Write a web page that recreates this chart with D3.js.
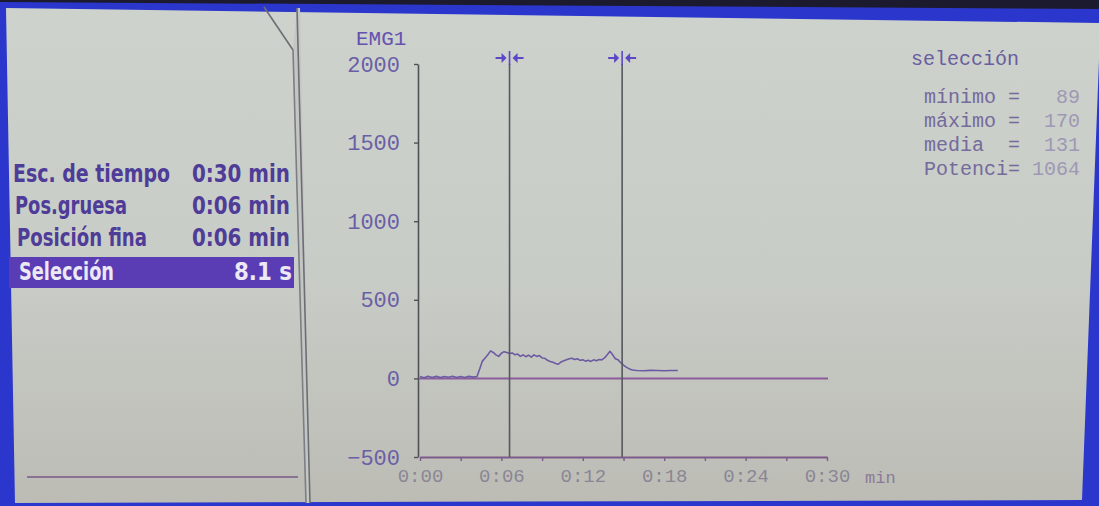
<!DOCTYPE html>
<html>
<head>
<meta charset="utf-8">
<script src="https://cdn.jsdelivr.net/npm/d3@7"></script>
<style>
  html, body { margin: 0; padding: 0; background: #1c1a2e; }
  svg { display: block; }
</style>
</head>
<body>
<svg id="chart" width="1099" height="506"></svg>
<script>
// ---------------- data ----------------
const channelName = "EMG1";
const yTicks = [-500, 0, 500, 1000, 1500, 2000];
const xMinorTicks = [0, 3, 6, 9, 12, 15, 18, 21, 24, 27, 30];
const xLabelTicks = [0, 6, 12, 18, 24, 30];
const xLabels = ["0:00", "0:06", "0:12", "0:18", "0:24", "0:30"];
const xUnit = "min";
const cursorTimes = [6.6, 14.9];

const menuLabels = ["Esc. de tiempo", "Pos.gruesa", "Posición fina", "Selección"];
const menuValues = ["0:30 min", "0:06 min", "0:06 min", "8.1 s"];

const statsTitle = "selección";
const statLabels = ["mínimo =", "máximo =", "media  =", "Potenci="];
const statValues = ["89", "170", "131", "1064"];

const emgTime = [0.0, 0.3, 0.6, 0.9, 1.2, 1.5, 1.8, 2.1, 2.4, 2.7, 3.0, 3.3, 3.6, 3.9, 4.2,
  4.4, 4.6, 4.8, 5.0, 5.2, 5.4, 5.6, 5.8, 6.0, 6.2, 6.4, 6.6, 6.8, 7.0, 7.2, 7.4, 7.6, 7.8,
  8.0, 8.2, 8.4, 8.6, 8.8, 9.0, 9.2, 9.4, 9.6, 9.8, 10.0, 10.2, 10.4, 10.6, 10.8, 11.0,
  11.2, 11.4, 11.6, 11.8, 12.0, 12.2, 12.4, 12.6, 12.8, 13.0, 13.2, 13.4, 13.6, 13.8, 14.0,
  14.2, 14.4, 14.6, 14.8, 15.0, 15.2, 15.4, 15.6, 15.8, 16.0, 16.5, 17.0, 17.5, 18.0, 18.5, 19.0];
const emgValue = [12, 4, 14, 6, 13, 5, 12, 7, 14, 5, 12, 6, 13, 8, 12,
  60, 110, 130, 150, 175, 165, 150, 140, 160, 170, 165, 158, 162, 150, 155, 140, 150, 138,
  148, 135, 150, 140, 145, 130, 128, 115, 108, 102, 95, 90, 105, 112, 118, 125,
  128, 120, 125, 115, 118, 110, 115, 108, 118, 112, 120, 118, 130, 150, 172,
  150, 125, 118, 100, 85, 72, 62, 55, 52, 50, 49, 51, 50, 49, 50, 50];

// ---------------- drawing ----------------
const svg = d3.select("#chart");
const defs = svg.append("defs");
const grad = defs.append("linearGradient").attr("id", "scr").attr("x1", 0).attr("y1", 0).attr("x2", 0).attr("y2", 1);
grad.append("stop").attr("offset", "0%").attr("stop-color", "#cdd2cd");
grad.append("stop").attr("offset", "55%").attr("stop-color", "#c8ccc6");
grad.append("stop").attr("offset", "100%").attr("stop-color", "#bcbcb5");

// monitor frame
svg.append("rect").attr("width", 1099).attr("height", 506).attr("fill", "#1c1a2e");
svg.append("polygon").attr("points", "0,2 1099,9 1099,506 0,506").attr("fill", "#2b37cc");
// screen
svg.append("polygon").attr("points", "6,8 1099,23 1099,60 1082,500 15,503").attr("fill", "url(#scr)");

// divider between panels
const divider = svg.append("g").attr("fill", "none");
divider.append("polygon").attr("points", "293,50 297,8 300,8 310,503 306,503").attr("fill", "#c4c6c4");
divider.append("line").attr("x1", 264).attr("y1", 7).attr("x2", 293).attr("y2", 50).attr("stroke-width", 1.6).attr("stroke", "#6c6e74");
divider.append("line").attr("x1", 297).attr("y1", 8).attr("x2", 310).attr("y2", 503).attr("stroke-width", 1.6).attr("stroke", "#6c6e74");
divider.append("line").attr("x1", 293).attr("y1", 50).attr("x2", 306).attr("y2", 503).attr("stroke-width", 1.6).attr("stroke", "#7c7e84");

// left menu
const menu = svg.append("g");
const rowBase = [182, 214, 246, 280];
const labelW = [157, 112, 130, 95];
const valueW = [98, 98, 98, 58];
menu.append("rect").attr("x", 9).attr("y", 257).attr("width", 285).attr("height", 31).attr("fill", "#5a3db4");
menuLabels.forEach((t, i) => {
  const sel = i === 3;
  menu.append("text").attr("x", 13 + i * 2).attr("y", rowBase[i])
    .attr("font-family", "'DejaVu Sans Condensed','DejaVu Sans',sans-serif")
    .attr("font-weight", "bold").attr("font-size", 24)
    .attr("textLength", labelW[i]).attr("lengthAdjust", "spacingAndGlyphs")
    .attr("fill", sel ? "#ece8f4" : "#4e3c98").text(t);
  menu.append("text").attr("x", 290 + (i === 3 ? 2 : 0)).attr("y", rowBase[i])
    .attr("text-anchor", "end")
    .attr("font-family", "'DejaVu Sans Condensed','DejaVu Sans',sans-serif")
    .attr("font-weight", "bold").attr("font-size", 24)
    .attr("textLength", valueW[i]).attr("lengthAdjust", "spacingAndGlyphs")
    .attr("fill", sel ? "#ece8f4" : "#4e3c98").text(menuValues[i]);
});
menu.append("line").attr("x1", 27).attr("y1", 477).attr("x2", 298).attr("y2", 477)
  .attr("stroke", "#7a5888").attr("stroke-width", 1.5);

// chart scales
const x = d3.scaleLinear().domain([0, 30]).range([420, 827]);
const y = d3.scaleLinear().domain([-500, 2000]).range([457, 64]);
const mono = "'Liberation Mono','DejaVu Sans Mono',monospace";

// y axis
const yAxis = svg.append("g").attr("transform", "translate(418,0)")
  .call(d3.axisLeft(y).tickValues(yTicks).tickFormat(d3.format("d")).tickSize(4).tickPadding(14).tickSizeOuter(0));
yAxis.select(".domain").attr("stroke", "#50525a").attr("stroke-width", 1.6);
yAxis.selectAll(".tick line").attr("stroke", "#50525a").attr("stroke-width", 1.4);
yAxis.selectAll(".tick text").attr("font-family", mono).attr("font-size", 22).attr("fill", "#6a5ea6");

svg.append("text").attr("x", 356).attr("y", 45).attr("font-family", mono).attr("font-size", 21)
  .attr("fill", "#6452b0").text(channelName);

// zero line
svg.append("line").attr("x1", 419).attr("x2", x(30) + 1).attr("y1", y(0)).attr("y2", y(0))
  .attr("stroke", "#8c5c9c").attr("stroke-width", 2);

// bottom axis
const xAxis = svg.append("g").attr("transform", `translate(0,${y(-500)})`)
  .call(d3.axisBottom(x).tickValues(xMinorTicks).tickFormat("").tickSize(4).tickSizeOuter(0));
xAxis.select(".domain").attr("stroke", "#7c5a8c").attr("stroke-width", 2);
xAxis.selectAll(".tick line").attr("stroke", "#7c5a8c").attr("stroke-width", 1.4);
const xLab = svg.append("g").attr("transform", `translate(0,${y(-500)})`)
  .call(d3.axisBottom(x).tickValues(xLabelTicks).tickFormat((d, i) => xLabels[i]).tickSize(0).tickPadding(12));
xLab.select(".domain").remove();
xLab.selectAll(".tick text").attr("font-family", mono).attr("font-size", 19).attr("fill", "#8a8694");
svg.append("text").attr("x", 865).attr("y", 483).attr("font-family", mono).attr("font-size", 17)
  .attr("fill", "#8a7a98").text(xUnit);

// signal
const line = d3.line().x((d, i) => x(emgTime[i])).y(d => y(d));
svg.append("path").datum(emgValue).attr("d", line).attr("fill", "none")
  .attr("stroke", "#6c5aa2").attr("stroke-width", 1.6).attr("stroke-linejoin", "round");

// cursors
const cur = svg.append("g").selectAll("g").data(cursorTimes).join("g")
  .attr("transform", d => `translate(${x(d)},0)`);
cur.append("line").attr("y1", 64).attr("y2", y(-500)).attr("stroke", "#55585e").attr("stroke-width", 1.6);
cur.append("line").attr("y1", 51).attr("y2", 65).attr("stroke", "#5a48c8").attr("stroke-width", 1.6);
cur.append("line").attr("x1", -14).attr("x2", -6).attr("y1", 58).attr("y2", 58).attr("stroke", "#5a48c8").attr("stroke-width", 2);
cur.append("line").attr("x1", 14).attr("x2", 6).attr("y1", 58).attr("y2", 58).attr("stroke", "#5a48c8").attr("stroke-width", 2);
cur.append("path").attr("d", "M-8,53 L-3,58 L-8,63 Z").attr("fill", "#5a48c8");
cur.append("path").attr("d", "M8,53 L3,58 L8,63 Z").attr("fill", "#5a48c8");

// stats
const stats = svg.append("g").attr("font-family", mono);
stats.append("text").attr("x", 911).attr("y", 65).attr("font-size", 20).attr("fill", "#6a5c9e").text(statsTitle);
statLabels.forEach((t, i) => {
  const tx = stats.append("text").attr("x", 924).attr("y", 103 + i * 24).attr("font-size", 20)
    .attr("xml:space", "preserve").style("white-space", "pre");
  tx.append("tspan").attr("fill", "#746a9c").text(t);
  tx.append("tspan").attr("fill", "#9e98b4").text((" " + statValues[i]).padStart(5, " "));
});
</script>
</body>
</html>
